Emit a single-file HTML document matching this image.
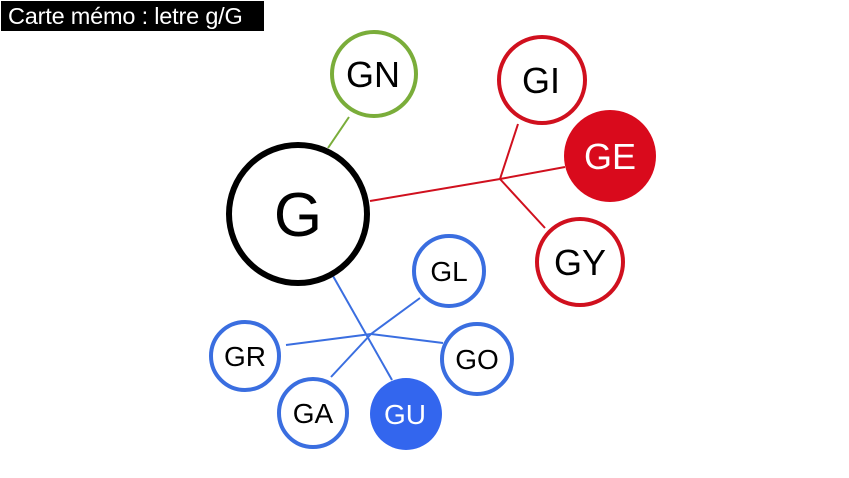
<!DOCTYPE html>
<html><head><meta charset="utf-8"><style>
html,body{margin:0;padding:0;background:#fff;}
body{width:849px;height:478px;overflow:hidden;position:relative;font-family:"Liberation Sans",Arial,sans-serif;}
.title{position:absolute;left:1px;top:1px;width:263px;height:30px;background:#000;color:#fff;font-size:23.5px;line-height:30px;padding-left:7px;box-sizing:border-box;white-space:nowrap;letter-spacing:-0.2px;}
</style></head><body>
<div class="title">Carte mémo : letre g/G</div>
<svg width="849" height="478" style="position:absolute;left:0;top:0" font-family="Liberation Sans, Arial, sans-serif" text-anchor="middle">
<g stroke-width="2" fill="none">
<line x1="349" y1="117" x2="328" y2="148" stroke="#7aad3a"/>
<g stroke="#d0101e">
<line x1="370" y1="201" x2="500" y2="179"/>
<line x1="500" y1="179" x2="518" y2="124"/>
<line x1="500" y1="179" x2="565" y2="167"/>
<line x1="500" y1="179" x2="545" y2="228"/>
</g>
<g stroke="#3a6ee0">
<line x1="333" y1="276" x2="392" y2="380"/>
<line x1="371" y1="334" x2="420" y2="298"/>
<line x1="371" y1="334" x2="286" y2="345"/>
<line x1="371" y1="334" x2="443" y2="343"/>
<line x1="371" y1="334" x2="331" y2="377"/>
</g>
</g>
<circle cx="298" cy="214" r="69" fill="#fff" stroke="#000" stroke-width="6"/>
<text x="298" y="236" font-size="62">G</text>
<circle cx="374" cy="74" r="42" fill="#fff" stroke="#7aad3a" stroke-width="4"/>
<text x="373" y="87" font-size="36">GN</text>
<circle cx="542" cy="80" r="43" fill="#fff" stroke="#d0101e" stroke-width="4"/>
<text x="541" y="93" font-size="36">GI</text>
<circle cx="610" cy="156" r="46" fill="#d90a1c"/>
<text x="610" y="169" font-size="36" fill="#fff">GE</text>
<circle cx="580" cy="262" r="43" fill="#fff" stroke="#d0101e" stroke-width="4"/>
<text x="580" y="275" font-size="36">GY</text>
<circle cx="449" cy="271" r="35" fill="#fff" stroke="#3a6ee0" stroke-width="4"/>
<text x="449" y="281" font-size="28">GL</text>
<circle cx="245" cy="356" r="34" fill="#fff" stroke="#3a6ee0" stroke-width="4"/>
<text x="245" y="366" font-size="28">GR</text>
<circle cx="477" cy="359" r="35" fill="#fff" stroke="#3a6ee0" stroke-width="4"/>
<text x="477" y="369" font-size="28">GO</text>
<circle cx="313" cy="413" r="34" fill="#fff" stroke="#3a6ee0" stroke-width="4"/>
<text x="313" y="423" font-size="28">GA</text>
<circle cx="406" cy="414" r="36" fill="#3366ee"/>
<text x="405" y="424" font-size="28" fill="#fff">GU</text>
</svg>
</body></html>
